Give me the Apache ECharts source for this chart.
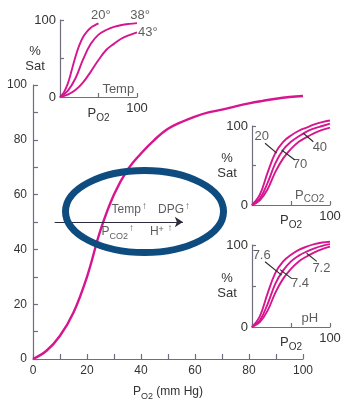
<!DOCTYPE html>
<html><head><meta charset="utf-8">
<script src="https://cdn.jsdelivr.net/npm/echarts@6/dist/echarts.min.js"></script>
<style>html,body{margin:0;padding:0;background:#fff}#c{width:341px;height:402px}</style>
</head><body><div id="c"></div>
<script>
// ---- main oxygen dissociation curve ----
const mainPO2 = [0, 5, 10, 15, 20, 25, 30, 35, 40, 45, 50, 55, 60, 65, 70, 75, 80, 85, 90, 95, 100];
const mainSat = [0, 3, 8.5, 17, 30, 47, 60, 69, 75, 80, 84, 86.5, 88.5, 90, 91, 92.2, 93.3, 94.2, 95, 95.6, 96];
const mainTicks = [0, 20, 40, 60, 80, 100];
const shiftArrow = [[8, 50], [55.5, 50]];
const shiftNotes = [
  [29.1, 54.4, '{p|Temp}{a|↑}'],
  [46.3, 54.4, '{p|DPG}{a|↑}'],
  [25.4, 46.5, '{p|P}{s|CO2}{a|↑}'],
  [43.3, 46.5, '{p|H}{q|+}{a| ↑}']
];
// ---- temperature inset ----
const t20PO2 = [0, 5, 10, 15, 20, 25, 30, 35, 40, 45, 50];
const t20Sat = [0, 6, 17, 34, 52, 67, 78, 85, 90, 93, 95.5];
const tPO2 = [0, 10, 20, 30, 40, 50, 60, 70, 80, 90, 100];
const t38Sat = [0, 8, 24, 49, 69, 81, 87, 91, 93.5, 95, 96];
const t43Sat = [0, 3, 9, 19, 33, 48, 61, 69, 76, 80.5, 84];
const tempNotes = [[53, 106.5, '20°'], [104, 106.5, '38°'], [114, 83.5, '43°'], [75.7, 10, 'Temp']];
// ---- PCO2 inset ----
const co2PO2 = [0, 10, 20, 30, 40, 50, 60, 70, 80, 90, 100];
const co2Sat20 = [0, 13, 41, 66, 80, 88, 94, 98, 102, 105, 107];
const co2Sat40 = [0, 8, 28, 53, 70, 80, 87, 93, 97, 100, 103];
const co2Sat70 = [0, 6, 20, 42, 59, 71, 80, 86, 91, 95, 98];
const co2Notes = [[12.4, 86.5, '20'], [61.5, 51.5, '70'], [87, 73, '40'], [74, 12.7, '{p|P}{s|CO2}']];
const co2Leaders = [[[16.7, 78.2], [31.7, 65.6]], [[55, 57], [38, 69.6]], [[78.6, 80.1], [65.8, 90.8]]];
// ---- pH inset ----
const phPO2 = [0, 10, 20, 30, 40, 50, 60, 70, 80, 90, 100];
const phSat76 = [0, 13, 41, 66, 80, 88, 94, 98, 101, 103, 104];
const phSat74 = [0, 8, 28, 53, 69, 80, 87, 92, 96, 99, 101];
const phSat72 = [0, 6, 20, 42, 59, 71, 80, 86, 91, 95, 98];
const phNotes = [[12.4, 87.8, '7.6'], [61.5, 53, '7.4'], [89, 71.5, '7.2'], [74, 10.6, 'pH']];
const phLeaders = [[[16.7, 79.6], [38, 63.3]], [[51, 59], [36, 70]], [[83, 80], [70, 90]]];

const MAG = '#d5168e', AX = '#6e6e80', TXT = '#333333';
const FONT = '"Liberation Sans", Arial, sans-serif';
const zip = (xs, ys) => xs.map((x, i) => [x, ys[i]]);
const rich = (fs) => ({
  p: { fontSize: fs, lineHeight: fs + 2, color: TXT, fontFamily: FONT },
  s: { fontSize: fs - 3, lineHeight: fs + 2, padding: [9, 0, 0, 0], color: TXT, fontFamily: FONT },
  a: { fontSize: 10, fontWeight: 'bold', lineHeight: 10, padding: [0, 0, 7, 1], color: TXT, fontFamily: FONT },
  q: { fontSize: 9, lineHeight: 9, padding: [0, 0, 4, 0], color: TXT, fontFamily: FONT }
});
const po2Name = '{p|P}{s|O2}';

function mainX() {
  return { gridIndex: 0, type: 'value', min: 0, max: 100, interval: 10,
    axisLine: { lineStyle: { color: AX, width: 1.2 } },
    axisTick: { inside: true, length: 5, lineStyle: { color: AX, width: 1.2 } },
    splitLine: { show: false },
    axisLabel: { color: TXT, fontSize: 12, fontFamily: FONT, margin: 6,
      formatter: v => mainTicks.includes(v) ? String(v) : '' },
    name: po2Name + '{p| (mm Hg)}', nameLocation: 'middle', nameGap: 26, nameMoveOverlap: false,
    nameTextStyle: { rich: rich(12) } };
}
function mainY() {
  return { gridIndex: 0, type: 'value', min: 0, max: 100, interval: 10,
    axisLine: { show: true, lineStyle: { color: AX, width: 1.2 } },
    axisTick: { show: true, inside: true, length: 5, lineStyle: { color: AX, width: 1.2 } },
    splitLine: { show: false },
    axisLabel: { color: TXT, fontSize: 12, fontFamily: FONT, margin: 6,
      formatter: v => mainTicks.includes(v) ? String(v) : '' } };
}
function insetX(g, gap) {
  return { gridIndex: g, type: 'value', min: 0, max: 100, interval: 50,
    axisLine: { lineStyle: { color: AX, width: 1.2 } },
    axisTick: { inside: true, length: 4, lineStyle: { color: AX, width: 1.2 } },
    splitLine: { show: false },
    axisLabel: { color: TXT, fontSize: 13, fontFamily: FONT, margin: 5,
      formatter: v => v === 100 ? '100' : '' },
    name: po2Name, nameLocation: 'middle', nameGap: gap, nameMoveOverlap: false,
    nameTextStyle: { rich: rich(13) } };
}
function insetY(g) {
  return { gridIndex: g, type: 'value', min: 0, max: 100, interval: 50,
    axisLine: { show: true, lineStyle: { color: AX, width: 1.2 } },
    axisTick: { show: true, inside: true, length: 4, lineStyle: { color: AX, width: 1.2 } },
    splitLine: { show: false },
    axisLabel: { color: TXT, fontSize: 13, fontFamily: FONT, margin: 4,
      formatter: v => v === 50 ? '' : String(v) },
    name: '%\nSat', nameLocation: 'middle', nameRotate: 0, nameGap: 25, nameMoveOverlap: false,
    nameTextStyle: { color: TXT, fontSize: 13, fontFamily: FONT, align: 'center', lineHeight: 15,
      padding: [0, 0, 6, 0] } };
}
function curve(g, xs, ys, w) {
  return { type: 'line', xAxisIndex: g, yAxisIndex: g, data: zip(xs, ys), smooth: 0.4,
    showSymbol: false, clip: false, silent: true,
    lineStyle: { color: MAG, width: w }, itemStyle: { color: MAG }, z: 3 };
}
function notes(g, arr, fs, pos) {
  return { type: 'scatter', xAxisIndex: g, yAxisIndex: g, clip: false, silent: true, symbolSize: 0,
    data: arr.map(d => ({ value: [d[0], d[1]], name: d[2] })),
    label: { show: true, position: pos, distance: 0, color: TXT, fontSize: fs, fontFamily: FONT,
      formatter: p => p.name, rich: rich(fs) }, z: 6 };
}
function leaders(arr) {
  return { silent: true, symbol: ['none', 'none'], label: { show: false }, animation: false,
    lineStyle: { color: '#2a2a2a', width: 1.1, type: 'solid' },
    data: arr.map(s => [{ coord: s[0] }, { coord: s[1] }]) };
}

const chart = echarts.init(document.getElementById('c'), null, { renderer: 'canvas' });
const mainSeries = curve(0, mainPO2, mainSat, 2.4);
mainSeries.markLine = { silent: true, symbol: ['none', 'arrow'], symbolSize: 8, animation: false,
  label: { show: false }, lineStyle: { color: '#2b2b3b', width: 1, type: 'solid' },
  data: [[{ coord: shiftArrow[0] }, { coord: shiftArrow[1] }]] };
const co2Mid = curve(2, co2PO2, co2Sat40, 1.9); co2Mid.markLine = leaders(co2Leaders);
const phMid = curve(3, phPO2, phSat74, 1.9); phMid.markLine = leaders(phLeaders);

const G = { outerBoundsMode: 'none', containLabel: false };
chart.setOption({
  animation: false,
  backgroundColor: '#fff',
  textStyle: { fontFamily: FONT },
  grid: [
    Object.assign({ left: 33, top: 85, width: 270, height: 274 }, G),
    Object.assign({ left: 60, top: 20, width: 77, height: 77 }, G),
    Object.assign({ left: 252, top: 126, width: 78, height: 79 }, G),
    Object.assign({ left: 252, top: 245, width: 78, height: 82 }, G)
  ],
  xAxis: [mainX(), insetX(1, 9), insetX(2, 8), insetX(3, 8)],
  yAxis: [mainY(), insetY(1), insetY(2), insetY(3)],
  series: [
    mainSeries,
    notes(0, shiftNotes, 12, 'right'),
    curve(1, t20PO2, t20Sat, 1.9), curve(1, tPO2, t38Sat, 1.9), curve(1, tPO2, t43Sat, 1.9),
    notes(1, tempNotes, 13, 'inside'),
    curve(2, co2PO2, co2Sat20, 1.9), co2Mid, curve(2, co2PO2, co2Sat70, 1.9),
    notes(2, co2Notes, 13, 'inside'),
    curve(3, phPO2, phSat76, 1.9), phMid, curve(3, phPO2, phSat72, 1.9),
    notes(3, phNotes, 13, 'inside')
  ],
  graphic: [{ type: 'ellipse', z: 100, silent: true,
    shape: { cx: 144.5, cy: 211.5, rx: 79, ry: 41 },
    style: { fill: null, stroke: '#0e4b7e', lineWidth: 7 } }]
});
</script></body></html>
